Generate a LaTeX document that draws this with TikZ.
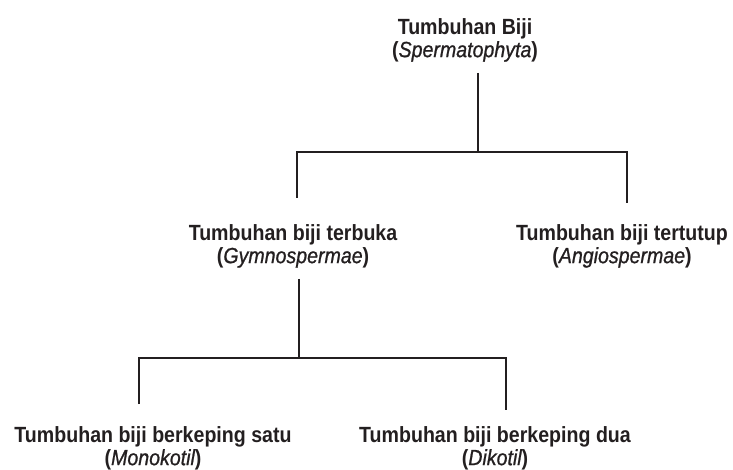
\documentclass[tikz,border=0pt]{standalone}
\usepackage{fontspec}
\setmainfont{Liberation Sans}[FakeStretch=0.89]
\newfontface\latinface{Liberation Sans Italic}[FakeStretch=0.89, FakeBold=0.9]
\definecolor{ink}{HTML}{231F20}
\begin{document}
\begin{tikzpicture}[x=1pt,y=-1pt,
  label/.style={inner sep=0pt, anchor=north, align=center, text=ink,
    font=\fontsize{22}{23}\selectfont\bfseries},
  conn/.style={draw=ink, line width=2pt}]
\useasboundingbox (0,0) rectangle (733,470);
\newcommand{\latin}[1]{({\latinface #1})}
\node[label] (root)  at (465,18)  {Tumbuhan Biji\\\latin{Spermatophyta}};
\node[label] (gymno) at (293,224) {Tumbuhan biji terbuka\\\latin{Gymnospermae}};
\node[label] (angio) at (622,224) {Tumbuhan biji tertutup\\\latin{Angiospermae}};
\node[label] (mono)  at (153,426) {Tumbuhan biji berkeping satu\\\latin{Monokotil}};
\node[label] (diko)  at (495,426) {Tumbuhan biji berkeping dua\\\latin{Dikotil}};
% junctions
\coordinate (j1) at (478,152);
\coordinate (j1l) at (297,152);
\coordinate (j1r) at (627,152);
\coordinate (j2) at (299,358);
\coordinate (j2l) at (139,358);
\coordinate (j2r) at (506,358);
% connectors
\draw[conn] (root.south -| j1) ++(0,11) -- (j1);
\draw[conn] (gymno.north -| j1l) ++(0,-26) -- (j1l) -- (j1r) -- ([yshift=21pt]angio.north -| j1r);
\draw[conn] (gymno.south -| j2) ++(0,11) -- (j2);
\draw[conn] (mono.north -| j2l) ++(0,-22) -- (j2l) -- (j2r) -- ([yshift=16pt]diko.north -| j2r);
\end{tikzpicture}
\end{document}
